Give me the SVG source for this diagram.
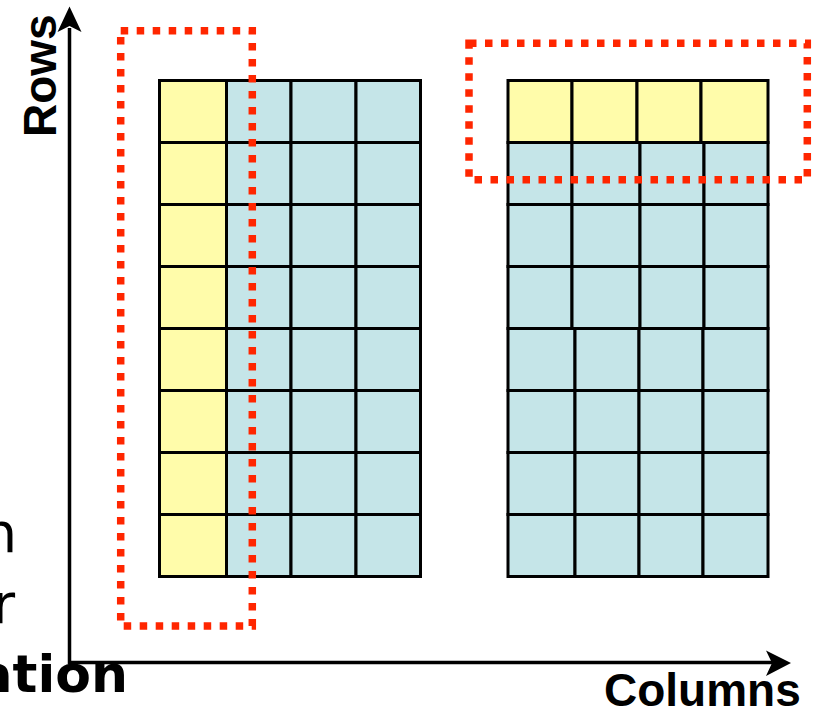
<svg xmlns="http://www.w3.org/2000/svg" width="821" height="716" viewBox="0 0 821 716">
  <style>
    .yel { fill: #FFFCAA; stroke: #000; stroke-width: 3; }
    .blu { fill: #C5E5E8; stroke: #000; stroke-width: 3; }
    .sel { fill: none; stroke: #FF2600; stroke-width: 7.5; stroke-dasharray: 7.5 8.5; }
    .axis { fill: none; stroke: #000; stroke-width: 3.5; }
    .head { fill: #000; }
    .lbl { font-family: "Liberation Sans", Arial, sans-serif; font-weight: bold; fill: #000; }
    .side { font-family: "DejaVu Sans", Verdana, sans-serif; fill: #000; }
  </style>

  <!-- axes -->
  <g id="connectors">
    <line class="axis" x1="69.5" y1="664" x2="69.5" y2="28"/>
    <polygon class="head" points="69.5,6.5 81.5,32 69.5,26 57.5,32"/>
    <line class="axis" x1="68" y1="662.5" x2="774" y2="662.5"/>
    <polygon class="head" points="791,663 766,676 772,663 766,650.5"/>
  </g>

  <!-- column-oriented grid: first column highlighted -->
  <g id="grid-left">
    <g class="col0">
      <rect class="yel" x="159.5" y="80.5" width="67" height="62"/>
      <rect class="yel" x="159.5" y="142.5" width="67" height="62"/>
      <rect class="yel" x="159.5" y="204.5" width="67" height="62"/>
      <rect class="yel" x="159.5" y="266.5" width="67" height="62"/>
      <rect class="yel" x="159.5" y="328.5" width="67" height="62"/>
      <rect class="yel" x="159.5" y="390.5" width="67" height="62"/>
      <rect class="yel" x="159.5" y="452.5" width="67" height="62"/>
      <rect class="yel" x="159.5" y="514.5" width="67" height="62"/>
    </g>
    <rect class="blu" x="226.5" y="80.5" width="64.5" height="62"/>
    <rect class="blu" x="291" y="80.5" width="65" height="62"/>
    <rect class="blu" x="356" y="80.5" width="64.5" height="62"/>
    <rect class="blu" x="226.5" y="142.5" width="64.5" height="62"/>
    <rect class="blu" x="291" y="142.5" width="65" height="62"/>
    <rect class="blu" x="356" y="142.5" width="64.5" height="62"/>
    <rect class="blu" x="226.5" y="204.5" width="64.5" height="62"/>
    <rect class="blu" x="291" y="204.5" width="65" height="62"/>
    <rect class="blu" x="356" y="204.5" width="64.5" height="62"/>
    <rect class="blu" x="226.5" y="266.5" width="64.5" height="62"/>
    <rect class="blu" x="291" y="266.5" width="65" height="62"/>
    <rect class="blu" x="356" y="266.5" width="64.5" height="62"/>
    <rect class="blu" x="226.5" y="328.5" width="64.5" height="62"/>
    <rect class="blu" x="291" y="328.5" width="65" height="62"/>
    <rect class="blu" x="356" y="328.5" width="64.5" height="62"/>
    <rect class="blu" x="226.5" y="390.5" width="64.5" height="62"/>
    <rect class="blu" x="291" y="390.5" width="65" height="62"/>
    <rect class="blu" x="356" y="390.5" width="64.5" height="62"/>
    <rect class="blu" x="226.5" y="452.5" width="64.5" height="62"/>
    <rect class="blu" x="291" y="452.5" width="65" height="62"/>
    <rect class="blu" x="356" y="452.5" width="64.5" height="62"/>
    <rect class="blu" x="226.5" y="514.5" width="64.5" height="62"/>
    <rect class="blu" x="291" y="514.5" width="65" height="62"/>
    <rect class="blu" x="356" y="514.5" width="64.5" height="62"/>
  </g>

  <!-- row-oriented grid: first row highlighted -->
  <g id="grid-right">
    <rect class="yel" x="508" y="80.5" width="64" height="62"/>
    <rect class="yel" x="572" y="80.5" width="65" height="62"/>
    <rect class="yel" x="637" y="80.5" width="64" height="62"/>
    <rect class="yel" x="701" y="80.5" width="67" height="62"/>

    <rect class="blu" x="508" y="142.5" width="64" height="62"/>
    <rect class="blu" x="572" y="142.5" width="68" height="62"/>
    <rect class="blu" x="640" y="142.5" width="64" height="62"/>
    <rect class="blu" x="704" y="142.5" width="64" height="62"/>
    <rect class="blu" x="508" y="204.5" width="64" height="62"/>
    <rect class="blu" x="572" y="204.5" width="68" height="62"/>
    <rect class="blu" x="640" y="204.5" width="64" height="62"/>
    <rect class="blu" x="704" y="204.5" width="64" height="62"/>
    <rect class="blu" x="508" y="266.5" width="64" height="62"/>
    <rect class="blu" x="572" y="266.5" width="68" height="62"/>
    <rect class="blu" x="640" y="266.5" width="64" height="62"/>
    <rect class="blu" x="704" y="266.5" width="64" height="62"/>

    <rect class="blu" x="508" y="328.5" width="67" height="62"/>
    <rect class="blu" x="575" y="328.5" width="64" height="62"/>
    <rect class="blu" x="639" y="328.5" width="64" height="62"/>
    <rect class="blu" x="703" y="328.5" width="65" height="62"/>
    <rect class="blu" x="508" y="390.5" width="67" height="62"/>
    <rect class="blu" x="575" y="390.5" width="64" height="62"/>
    <rect class="blu" x="639" y="390.5" width="64" height="62"/>
    <rect class="blu" x="703" y="390.5" width="65" height="62"/>
    <rect class="blu" x="508" y="452.5" width="67" height="62"/>
    <rect class="blu" x="575" y="452.5" width="64" height="62"/>
    <rect class="blu" x="639" y="452.5" width="64" height="62"/>
    <rect class="blu" x="703" y="452.5" width="65" height="62"/>
    <rect class="blu" x="508" y="514.5" width="67" height="62"/>
    <rect class="blu" x="575" y="514.5" width="64" height="62"/>
    <rect class="blu" x="639" y="514.5" width="64" height="62"/>
    <rect class="blu" x="703" y="514.5" width="65" height="62"/>
  </g>

  <!-- dotted selections -->
  <g id="select-column">
    <rect class="sel" x="120.7" y="30.7" width="131.6" height="595.3"/>
  </g>
  <g id="select-row">
    <rect class="sel" x="469" y="43.3" width="338.3" height="136.4"/>
  </g>

  <!-- axis labels -->
  <g id="label-rows">
    <text class="lbl" font-size="46" transform="translate(56,137) rotate(-90)">Rows</text>
  </g>
  <g id="label-columns">
    <text class="lbl" font-size="46" x="604" y="706">Columns</text>
  </g>

  <!-- caption lines running off the left edge -->
  <g id="caption">
    <text class="side" font-size="55" x="17" y="552" text-anchor="end">n</text>
    <text class="side" font-size="55" x="15" y="623" text-anchor="end">r</text>
    <text class="side" font-size="52" font-weight="bold" x="128" y="692" text-anchor="end">ation</text>
  </g>
</svg>
